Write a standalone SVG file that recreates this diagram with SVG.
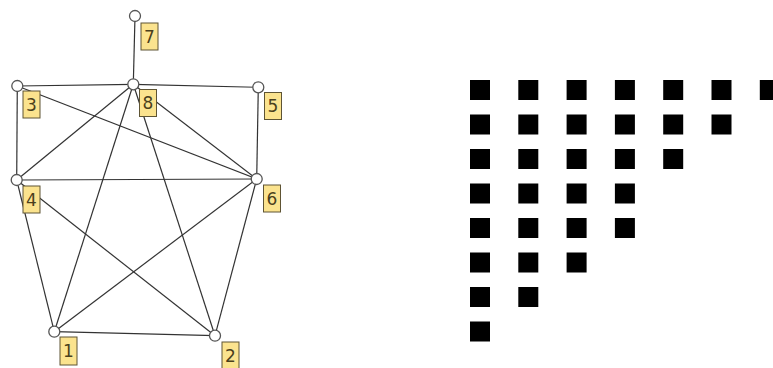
<svg xmlns="http://www.w3.org/2000/svg" width="773" height="368" viewBox="0 0 773 368">
<style>
.e{stroke:#333;stroke-width:1.2;fill:none}
.n{fill:#fff;stroke:#555;stroke-width:1.3}
.lb{fill:#fbe38e;stroke:#5e5434;stroke-width:1}
.lt{font-family:"DejaVu Sans",sans-serif;font-size:17px;fill:#4a3f1c;text-anchor:middle}
.sq{fill:#000}
</style>
<rect width="773" height="368" fill="#fff"/>
<g id="connectors">
<line class="e" x1="135" y1="16" x2="133.3" y2="84.3"/>
<line class="e" x1="17.3" y1="86" x2="133.3" y2="84.3"/>
<line class="e" x1="133.3" y1="84.3" x2="258.3" y2="87.3"/>
<line class="e" x1="17.3" y1="86" x2="16.7" y2="180"/>
<line class="e" x1="17.3" y1="86" x2="256.7" y2="179"/>
<line class="e" x1="133.3" y1="84.3" x2="16.7" y2="180"/>
<line class="e" x1="133.3" y1="84.3" x2="54.3" y2="331.7"/>
<line class="e" x1="133.3" y1="84.3" x2="215" y2="335.7"/>
<line class="e" x1="133.3" y1="84.3" x2="256.7" y2="179"/>
<line class="e" x1="258.3" y1="87.3" x2="256.7" y2="179"/>
<line class="e" x1="16.7" y1="180" x2="256.7" y2="179"/>
<line class="e" x1="16.7" y1="180" x2="54.3" y2="331.7"/>
<line class="e" x1="16.7" y1="180" x2="215" y2="335.7"/>
<line class="e" x1="256.7" y1="179" x2="54.3" y2="331.7"/>
<line class="e" x1="256.7" y1="179" x2="215" y2="335.7"/>
<line class="e" x1="54.3" y1="331.7" x2="215" y2="335.7"/>
</g>
<g id="node7"><circle class="n" cx="135" cy="16" r="5.5"/><rect class="lb" x="141" y="23" width="17" height="27"/><text class="lt" x="149.5" y="42.5">7</text></g>
<g id="node3"><circle class="n" cx="17.3" cy="86" r="5.5"/><rect class="lb" x="23" y="91" width="17" height="27"/><text class="lt" x="31.5" y="110.5">3</text></g>
<g id="node8"><circle class="n" cx="133.3" cy="84.3" r="5.5"/><rect class="lb" x="139.5" y="89.5" width="17" height="27"/><text class="lt" x="148" y="109">8</text></g>
<g id="node5"><circle class="n" cx="258.3" cy="87.3" r="5.5"/><rect class="lb" x="264.5" y="92.5" width="17" height="27"/><text class="lt" x="273" y="112">5</text></g>
<g id="node4"><circle class="n" cx="16.7" cy="180" r="5.5"/><rect class="lb" x="23" y="186" width="17" height="27"/><text class="lt" x="31.5" y="205.5">4</text></g>
<g id="node6"><circle class="n" cx="256.7" cy="179" r="5.5"/><rect class="lb" x="263.5" y="185" width="17" height="27"/><text class="lt" x="272" y="204.5">6</text></g>
<g id="node1"><circle class="n" cx="54.3" cy="331.7" r="5.5"/><rect class="lb" x="60" y="337" width="17" height="28"/><text class="lt" x="68.5" y="357">1</text></g>
<g id="node2"><circle class="n" cx="215" cy="335.7" r="5.5"/><rect class="lb" x="222" y="342" width="17" height="29"/><text class="lt" x="230.5" y="362">2</text></g>
<g id="squares">
<rect class="sq" x="470" y="80" width="20" height="20"/><rect class="sq" x="518.3" y="80" width="20" height="20"/><rect class="sq" x="566.6" y="80" width="20" height="20"/><rect class="sq" x="614.9" y="80" width="20" height="20"/><rect class="sq" x="663.2" y="80" width="20" height="20"/><rect class="sq" x="711.5" y="80" width="20" height="20"/><rect class="sq" x="759.8" y="80" width="20" height="20"/>
<rect class="sq" x="470" y="114.5" width="20" height="20"/><rect class="sq" x="518.3" y="114.5" width="20" height="20"/><rect class="sq" x="566.6" y="114.5" width="20" height="20"/><rect class="sq" x="614.9" y="114.5" width="20" height="20"/><rect class="sq" x="663.2" y="114.5" width="20" height="20"/><rect class="sq" x="711.5" y="114.5" width="20" height="20"/>
<rect class="sq" x="470" y="149" width="20" height="20"/><rect class="sq" x="518.3" y="149" width="20" height="20"/><rect class="sq" x="566.6" y="149" width="20" height="20"/><rect class="sq" x="614.9" y="149" width="20" height="20"/><rect class="sq" x="663.2" y="149" width="20" height="20"/>
<rect class="sq" x="470" y="183.5" width="20" height="20"/><rect class="sq" x="518.3" y="183.5" width="20" height="20"/><rect class="sq" x="566.6" y="183.5" width="20" height="20"/><rect class="sq" x="614.9" y="183.5" width="20" height="20"/>
<rect class="sq" x="470" y="218" width="20" height="20"/><rect class="sq" x="518.3" y="218" width="20" height="20"/><rect class="sq" x="566.6" y="218" width="20" height="20"/><rect class="sq" x="614.9" y="218" width="20" height="20"/>
<rect class="sq" x="470" y="252.5" width="20" height="20"/><rect class="sq" x="518.3" y="252.5" width="20" height="20"/><rect class="sq" x="566.6" y="252.5" width="20" height="20"/>
<rect class="sq" x="470" y="287" width="20" height="20"/><rect class="sq" x="518.3" y="287" width="20" height="20"/>
<rect class="sq" x="470" y="321.5" width="20" height="20"/>
</g>
</svg>
